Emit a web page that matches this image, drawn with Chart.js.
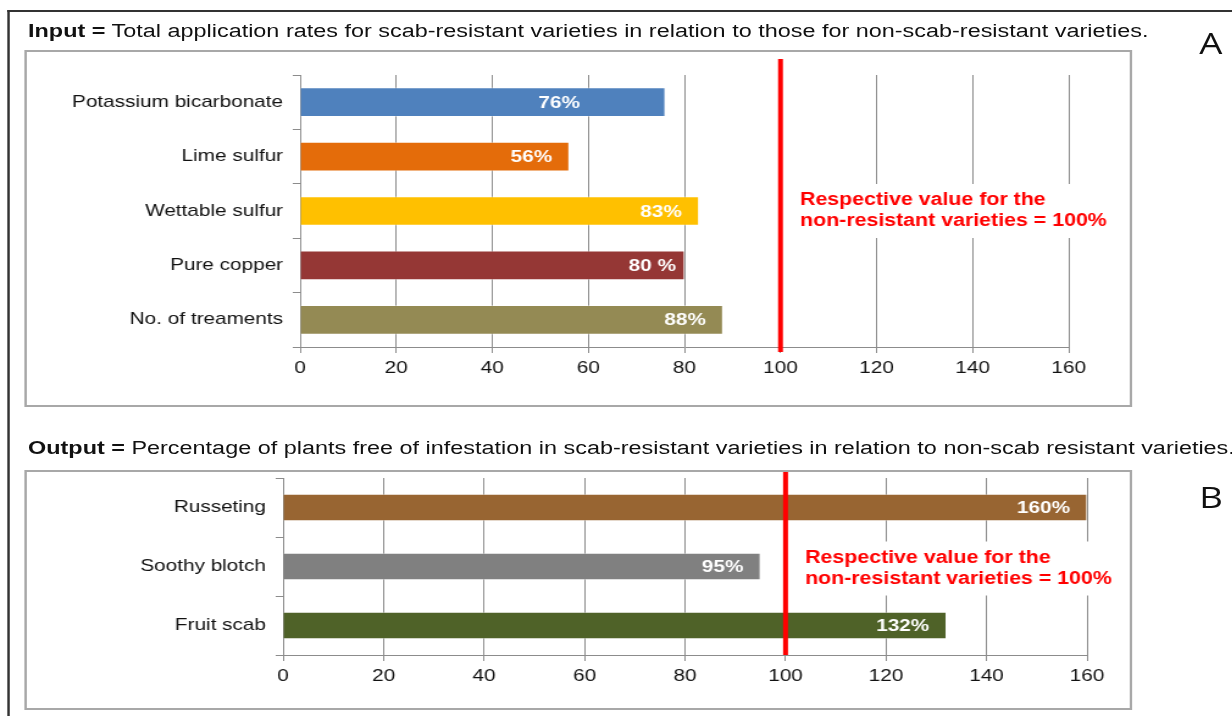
<!DOCTYPE html>
<html>
<head>
<meta charset="utf-8">
<script src="https://cdn.jsdelivr.net/npm/chart.js@4.4.1/dist/chart.umd.min.js"></script>
<style>
  html, body { margin: 0; padding: 0; background: #fff; }
  body { width: 1232px; height: 716px; overflow: hidden; position: relative; }
  /* the source picture is stretched sideways, so the whole page is too */
  #page { position: absolute; left: 0; top: 0; width: 1010px; height: 716px;
          transform: scaleX(1.22); transform-origin: 0 0;
          font-family: "Liberation Sans", Arial, sans-serif; color: #111; }
  #frame { position: absolute; left: 6px; top: 10px; width: 1100px; height: 800px;
           border-left: 2px solid #333; border-top: 2px solid #333; }
  .title { position: absolute; left: 23px; font-size: 19.2px; line-height: 22px; white-space: nowrap; }
  .panel { position: absolute; left: 20px; width: 908px; box-sizing: border-box; border: 2px solid #a8a8a8; }
  canvas { position: absolute; left: 20px; }
  .letter { position: absolute; left: 983px; font-family: "Open Sans", sans-serif; font-size: 30px; line-height: 30px; }
</style>
</head>
<body>
<div id="page">
  <div id="frame"></div>
  <div class="title" style="top:20px"><b>Input =</b> Total application rates for scab-resistant varieties in relation to those for non-scab-resistant varieties.</div>
  <div class="letter" style="top:28px">A</div>
  <div class="panel" style="top:50px;height:357px"></div>
  <canvas id="chartA" width="908" height="357" style="top:50px;width:908px;height:357px"></canvas>

  <div class="title" style="top:437px"><b>Output =</b> Percentage of plants free of infestation in scab-resistant varieties in relation to non-scab resistant varieties.</div>
  <div class="letter" style="top:482px">B</div>
  <div class="panel" style="top:470px;height:240px"></div>
  <canvas id="chartB" width="908" height="240" style="top:470px;width:908px;height:240px"></canvas>
</div>
<script>
var inputLabels = ['Potassium bicarbonate', 'Lime sulfur', 'Wettable sulfur', 'Pure copper', 'No. of treaments'];
var inputValues = [76, 56, 83, 80, 88];
var inputText = ['76%', '56%', '83%', '80 %', '88%'];
var inputColors = ['#4f81bd', '#e46c0a', '#ffc000', '#953735', '#948a54'];

var outputLabels = ['Russeting', 'Soothy blotch', 'Fruit scab'];
var outputValues = [160, 95, 132];
var outputText = ['160%', '95%', '132%'];
var outputColors = ['#986532', '#808080', '#4f6228'];

var axisMin = 0;
var axisMax = 160;
var axisStep = 20;
var referenceValue = 100;
var referenceNote = ['Respective value for the', 'non-resistant varieties = 100%'];

var FONT = '"Liberation Sans", Arial, sans-serif';
var GRID = '#8c8c8c';

function makeChart(id, labels, values, texts, colors, g) {
  var ctx = document.getElementById(id).getContext('2d');

  // red reference line, value labels and the note beside the line
  var refPlugin = {
    id: 'refLine',
    beforeDatasetsDraw: function (chart) {
      var c = chart.ctx;
      var x = chart.scales.x.getPixelForValue(referenceValue);
      var yc = chart.scales.y.getPixelForValue(g.noteIndex) + g.noteShift;
      c.save();
      c.font = 'bold 17.5px ' + FONT;
      var w = Math.max(c.measureText(referenceNote[0]).width, c.measureText(referenceNote[1]).width);
      c.fillStyle = '#fff';
      c.fillRect(x + 8, yc - 27, w + 18, 54);
      c.restore();
    },
    afterDatasetsDraw: function (chart) {
      var c = chart.ctx;
      var area = chart.chartArea;
      var x = chart.scales.x.getPixelForValue(referenceValue);
      var yc = chart.scales.y.getPixelForValue(g.noteIndex) + g.noteShift;
      c.save();
      c.strokeStyle = '#ff0000';
      c.lineWidth = 4;
      c.beginPath();
      c.moveTo(x, area.top - g.above);
      c.lineTo(x, area.bottom + g.below);
      c.stroke();

      c.font = 'bold 17px ' + FONT;
      c.fillStyle = '#fff';
      c.textAlign = 'right';
      c.textBaseline = 'middle';
      chart.getDatasetMeta(0).data.forEach(function (bar, i) {
        c.fillText(texts[i], bar.x - g.pads[i], bar.y + 1);
      });

      c.font = 'bold 17.5px ' + FONT;
      c.fillStyle = '#ff0000';
      c.textAlign = 'left';
      c.fillText(referenceNote[0], x + 16, yc - 10.5);
      c.fillText(referenceNote[1], x + 16, yc + 10.5);
      c.restore();
    }
  };

  return new Chart(ctx, {
    type: 'bar',
    data: {
      labels: labels,
      datasets: [{
        data: values,
        backgroundColor: colors,
        borderColor: 'rgba(255,255,255,0.35)',
        borderWidth: 1,
        barThickness: g.bar
      }]
    },
    options: {
      responsive: false,
      animation: false,
      indexAxis: 'y',
      layout: { padding: { top: g.top, right: g.right, left: 0, bottom: 0 } },
      plugins: { legend: { display: false }, tooltip: { enabled: false } },
      scales: {
        x: {
          min: axisMin,
          max: axisMax,
          ticks: { stepSize: axisStep, color: '#111', padding: 5, font: { size: 17, family: FONT } },
          grid: { color: GRID, lineWidth: 1, tickLength: 6 },
          border: { color: GRID, width: 1 },
          afterFit: function (s) { s.height = g.xh; }
        },
        y: {
          ticks: { color: '#111', padding: 8, font: { size: 17, family: FONT } },
          grid: { drawOnChartArea: false, color: GRID, tickLength: 6, offset: true },
          border: { color: GRID, width: 1 },
          afterFit: function (s) { s.width = g.yw; s.paddingTop = 0; s.paddingBottom = 0; }
        }
      }
    },
    plugins: [refPlugin]
  });
}

var chartA = makeChart('chartA', inputLabels, inputValues, inputText, inputColors, {
  yw: 226, top: 25, right: 52, xh: 60, bar: 29, above: 16, below: 5, noteIndex: 2, noteShift: 0,
  pads: [70, 14, 14, 7, 14]
});
var chartB = makeChart('chartB', outputLabels, outputValues, outputText, outputColors, {
  yw: 212, top: 8, right: 37, xh: 55, bar: 27, above: 6, below: 0, noteIndex: 1, noteShift: 2,
  pads: [14, 14, 14]
});
</script>
</body>
</html>
